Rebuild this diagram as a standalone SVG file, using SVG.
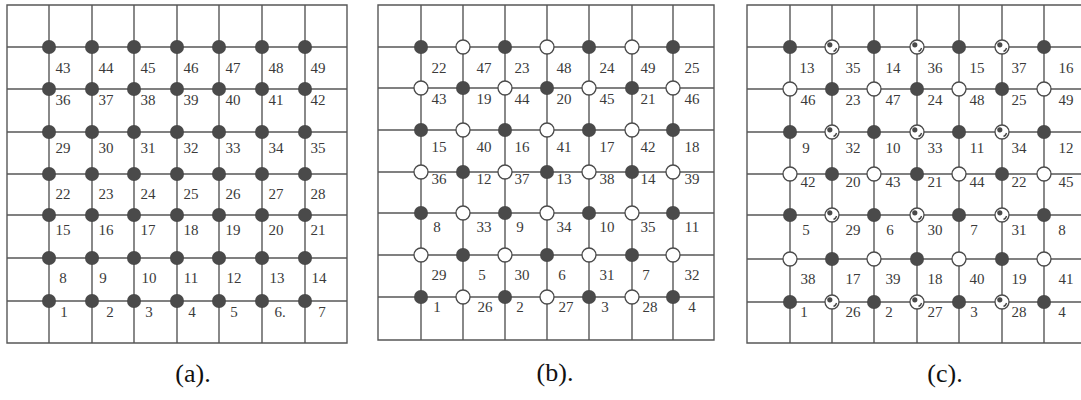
<svg xmlns="http://www.w3.org/2000/svg" width="1081" height="400" viewBox="0 0 1081 400">
<style>
.grid{fill:none;stroke:#575757;stroke-width:1.4}
.f{fill:#4a4a4a}
.o{fill:#fff;stroke:#4a4a4a;stroke-width:1.3}
.lb{font-family:"Liberation Serif",serif;font-size:15px;fill:#3a3a3a;text-anchor:middle}
.cap{font-family:"Liberation Serif",serif;font-size:26px;fill:#111;text-anchor:middle}
</style>
<defs>
<circle id="F" r="7" class="f"/>
<circle id="O" r="7" class="o"/>
<g id="H"><circle r="7" class="o"/><circle cx="-2.2" cy="-2.2" r="2.6" fill="#4a4a4a"/><path d="M1.5,4.5 A5,5 0 0 0 4.6,1" fill="none" stroke="#4a4a4a" stroke-width="1.4"/></g>
</defs>
<rect width="1081" height="400" fill="#fff"/>
<g id="connectors">
<path class="grid" d="M7,5H347V343H7Z M49,5V343 M92,5V343 M134,5V343 M177,5V343 M219,5V343 M262,5V343 M305,5V343 M7,47H347 M7,89H347 M7,132H347 M7,174H347 M7,215H347 M7,258H347 M7,301H347"/>
<path class="grid" d="M378,5H714V340H378Z M421,5V340 M463,5V340 M505,5V340 M547,5V340 M589,5V340 M632,5V340 M673,5V340 M378,47H714 M378,88H714 M378,130H714 M378,172H714 M378,213H714 M378,255H714 M378,297H714"/>
<path class="grid" d="M1090,5H747V343H1090 M790,5V343 M832,5V343 M874,5V343 M917,5V343 M959,5V343 M1002,5V343 M1044,5V343 M747,47H1090 M747,89H1090 M747,132H1090 M747,174H1090 M747,215H1090 M747,259H1090 M747,302H1090"/>
</g>
<g id="panel-a-nodes">
<g id="a-r1"><use href="#F" x="49" y="47"/><use href="#F" x="92" y="47"/><use href="#F" x="134" y="47"/><use href="#F" x="177" y="47"/><use href="#F" x="219" y="47"/><use href="#F" x="262" y="47"/><use href="#F" x="305" y="47"/></g>
<g id="a-r2"><use href="#F" x="49" y="89"/><use href="#F" x="92" y="89"/><use href="#F" x="134" y="89"/><use href="#F" x="177" y="89"/><use href="#F" x="219" y="89"/><use href="#F" x="262" y="89"/><use href="#F" x="305" y="89"/></g>
<g id="a-r3"><use href="#F" x="49" y="132"/><use href="#F" x="92" y="132"/><use href="#F" x="134" y="132"/><use href="#F" x="177" y="132"/><use href="#F" x="219" y="132"/><use href="#F" x="262" y="132"/><use href="#F" x="305" y="132"/></g>
<g id="a-r4"><use href="#F" x="49" y="174"/><use href="#F" x="92" y="174"/><use href="#F" x="134" y="174"/><use href="#F" x="177" y="174"/><use href="#F" x="219" y="174"/><use href="#F" x="262" y="174"/><use href="#F" x="305" y="174"/></g>
<g id="a-r5"><use href="#F" x="49" y="215"/><use href="#F" x="92" y="215"/><use href="#F" x="134" y="215"/><use href="#F" x="177" y="215"/><use href="#F" x="219" y="215"/><use href="#F" x="262" y="215"/><use href="#F" x="305" y="215"/></g>
<g id="a-r6"><use href="#F" x="49" y="258"/><use href="#F" x="92" y="258"/><use href="#F" x="134" y="258"/><use href="#F" x="177" y="258"/><use href="#F" x="219" y="258"/><use href="#F" x="262" y="258"/><use href="#F" x="305" y="258"/></g>
<g id="a-r7"><use href="#F" x="49" y="301"/><use href="#F" x="92" y="301"/><use href="#F" x="134" y="301"/><use href="#F" x="177" y="301"/><use href="#F" x="219" y="301"/><use href="#F" x="262" y="301"/><use href="#F" x="305" y="301"/></g>
</g>
<g id="panel-a-labels" class="lb">
<text x="63" y="73">43</text><text x="106" y="73">44</text><text x="148" y="73">45</text><text x="191" y="73">46</text><text x="233" y="73">47</text><text x="276" y="73">48</text><text x="318" y="73">49</text>
<text x="63" y="105">36</text><text x="106" y="105">37</text><text x="148" y="105">38</text><text x="191" y="105">39</text><text x="233" y="105">40</text><text x="276" y="105">41</text><text x="318" y="105">42</text>
<text x="63" y="153">29</text><text x="106" y="153">30</text><text x="148" y="153">31</text><text x="191" y="153">32</text><text x="233" y="153">33</text><text x="276" y="153">34</text><text x="318" y="153">35</text>
<text x="63" y="199">22</text><text x="106" y="199">23</text><text x="148" y="199">24</text><text x="191" y="199">25</text><text x="233" y="199">26</text><text x="276" y="199">27</text><text x="318" y="199">28</text>
<text x="63" y="235">15</text><text x="106" y="235">16</text><text x="148" y="235">17</text><text x="191" y="235">18</text><text x="233" y="235">19</text><text x="276" y="235">20</text><text x="318" y="235">21</text>
<text x="63" y="283">8</text><text x="103" y="283">9</text><text x="149" y="283">10</text><text x="191" y="283">11</text><text x="234" y="283">12</text><text x="277" y="283">13</text><text x="319" y="283">14</text>
<text x="64" y="317">1</text><text x="110" y="317">2</text><text x="149" y="317">3</text><text x="192" y="317">4</text><text x="234" y="317">5</text><text x="280" y="317">6.</text><text x="322" y="317">7</text>
</g>
<g id="panel-b-nodes">
<g id="b-r1"><use href="#F" x="421" y="47"/><use href="#O" x="463" y="47"/><use href="#F" x="505" y="47"/><use href="#O" x="547" y="47"/><use href="#F" x="589" y="47"/><use href="#O" x="632" y="47"/><use href="#F" x="673" y="47"/></g>
<g id="b-r2"><use href="#O" x="421" y="88"/><use href="#F" x="463" y="88"/><use href="#O" x="505" y="88"/><use href="#F" x="547" y="88"/><use href="#O" x="589" y="88"/><use href="#F" x="632" y="88"/><use href="#O" x="673" y="88"/></g>
<g id="b-r3"><use href="#F" x="421" y="130"/><use href="#O" x="463" y="130"/><use href="#F" x="505" y="130"/><use href="#O" x="547" y="130"/><use href="#F" x="589" y="130"/><use href="#O" x="632" y="130"/><use href="#F" x="673" y="130"/></g>
<g id="b-r4"><use href="#O" x="421" y="172"/><use href="#F" x="463" y="172"/><use href="#O" x="505" y="172"/><use href="#F" x="547" y="172"/><use href="#O" x="589" y="172"/><use href="#F" x="632" y="172"/><use href="#O" x="673" y="172"/></g>
<g id="b-r5"><use href="#F" x="421" y="213"/><use href="#O" x="463" y="213"/><use href="#F" x="505" y="213"/><use href="#O" x="547" y="213"/><use href="#F" x="589" y="213"/><use href="#O" x="632" y="213"/><use href="#F" x="673" y="213"/></g>
<g id="b-r6"><use href="#O" x="421" y="255"/><use href="#F" x="463" y="255"/><use href="#O" x="505" y="255"/><use href="#F" x="547" y="255"/><use href="#O" x="589" y="255"/><use href="#F" x="632" y="255"/><use href="#O" x="673" y="255"/></g>
<g id="b-r7"><use href="#F" x="421" y="297"/><use href="#O" x="463" y="297"/><use href="#F" x="505" y="297"/><use href="#O" x="547" y="297"/><use href="#F" x="589" y="297"/><use href="#O" x="632" y="297"/><use href="#F" x="673" y="297"/></g>
</g>
<g id="panel-b-labels" class="lb">
<text x="439" y="73">22</text><text x="484" y="73">47</text><text x="522" y="73">23</text><text x="564" y="73">48</text><text x="607" y="73">24</text><text x="648" y="73">49</text><text x="692" y="73">25</text>
<text x="439" y="104">43</text><text x="484" y="104">19</text><text x="522" y="104">44</text><text x="564" y="104">20</text><text x="607" y="104">45</text><text x="648" y="104">21</text><text x="692" y="104">46</text>
<text x="439" y="152">15</text><text x="484" y="152">40</text><text x="522" y="152">16</text><text x="564" y="152">41</text><text x="607" y="152">17</text><text x="648" y="152">42</text><text x="692" y="152">18</text>
<text x="439" y="184">36</text><text x="484" y="184">12</text><text x="522" y="184">37</text><text x="564" y="184">13</text><text x="607" y="184">38</text><text x="648" y="184">14</text><text x="692" y="184">39</text>
<text x="437" y="232">8</text><text x="484" y="232">33</text><text x="520" y="232">9</text><text x="564" y="232">34</text><text x="607" y="232">10</text><text x="648" y="232">35</text><text x="692" y="232">11</text>
<text x="439" y="280">29</text><text x="482" y="280">5</text><text x="522" y="280">30</text><text x="562" y="280">6</text><text x="607" y="280">31</text><text x="646" y="280">7</text><text x="692" y="280">32</text>
<text x="437" y="312">1</text><text x="485" y="312">26</text><text x="520" y="312">2</text><text x="566" y="312">27</text><text x="605" y="312">3</text><text x="650" y="312">28</text><text x="692" y="312">4</text>
</g>
<g id="panel-c-nodes">
<g id="c-r1"><use href="#F" x="790" y="47"/><use href="#H" x="832" y="47"/><use href="#F" x="874" y="47"/><use href="#H" x="917" y="47"/><use href="#F" x="959" y="47"/><use href="#H" x="1002" y="47"/><use href="#F" x="1044" y="47"/></g>
<g id="c-r2"><use href="#O" x="790" y="89"/><use href="#F" x="832" y="89"/><use href="#O" x="874" y="89"/><use href="#F" x="917" y="89"/><use href="#O" x="959" y="89"/><use href="#F" x="1002" y="89"/><use href="#O" x="1044" y="89"/></g>
<g id="c-r3"><use href="#F" x="790" y="132"/><use href="#H" x="832" y="132"/><use href="#F" x="874" y="132"/><use href="#H" x="917" y="132"/><use href="#F" x="959" y="132"/><use href="#H" x="1002" y="132"/><use href="#F" x="1044" y="132"/></g>
<g id="c-r4"><use href="#O" x="790" y="174"/><use href="#F" x="832" y="174"/><use href="#O" x="874" y="174"/><use href="#F" x="917" y="174"/><use href="#O" x="959" y="174"/><use href="#F" x="1002" y="174"/><use href="#O" x="1044" y="174"/></g>
<g id="c-r5"><use href="#F" x="790" y="215"/><use href="#H" x="832" y="215"/><use href="#F" x="874" y="215"/><use href="#H" x="917" y="215"/><use href="#F" x="959" y="215"/><use href="#H" x="1002" y="215"/><use href="#F" x="1044" y="215"/></g>
<g id="c-r6"><use href="#O" x="790" y="259"/><use href="#F" x="832" y="259"/><use href="#O" x="874" y="259"/><use href="#F" x="917" y="259"/><use href="#O" x="959" y="259"/><use href="#F" x="1002" y="259"/><use href="#O" x="1044" y="259"/></g>
<g id="c-r7"><use href="#F" x="790" y="302"/><use href="#H" x="832" y="302"/><use href="#F" x="874" y="302"/><use href="#H" x="917" y="302"/><use href="#F" x="959" y="302"/><use href="#H" x="1002" y="302"/><use href="#F" x="1044" y="302"/></g>
</g>
<g id="panel-c-labels" class="lb">
<text x="807" y="73">13</text><text x="853" y="73">35</text><text x="893" y="73">14</text><text x="935" y="73">36</text><text x="977" y="73">15</text><text x="1019" y="73">37</text><text x="1066" y="73">16</text>
<text x="808" y="105">46</text><text x="853" y="105">23</text><text x="893" y="105">47</text><text x="935" y="105">24</text><text x="977" y="105">48</text><text x="1019" y="105">25</text><text x="1066" y="105">49</text>
<text x="806" y="153">9</text><text x="853" y="153">32</text><text x="893" y="153">10</text><text x="935" y="153">33</text><text x="977" y="153">11</text><text x="1019" y="153">34</text><text x="1066" y="153">12</text>
<text x="808" y="187">42</text><text x="853" y="187">20</text><text x="893" y="187">43</text><text x="935" y="187">21</text><text x="977" y="187">44</text><text x="1019" y="187">22</text><text x="1066" y="187">45</text>
<text x="806" y="235">5</text><text x="853" y="235">29</text><text x="890" y="235">6</text><text x="935" y="235">30</text><text x="974" y="235">7</text><text x="1019" y="235">31</text><text x="1062" y="235">8</text>
<text x="808" y="284">38</text><text x="853" y="284">17</text><text x="893" y="284">39</text><text x="935" y="284">18</text><text x="977" y="284">40</text><text x="1019" y="284">19</text><text x="1066" y="284">41</text>
<text x="804" y="317">1</text><text x="853" y="317">26</text><text x="889" y="317">2</text><text x="935" y="317">27</text><text x="974" y="317">3</text><text x="1019" y="317">28</text><text x="1062" y="317">4</text>
</g>
<g id="captions" class="cap">
<text x="193" y="382">(a).</text>
<text x="555" y="381">(b).</text>
<text x="945" y="382">(c).</text>
</g>
</svg>
